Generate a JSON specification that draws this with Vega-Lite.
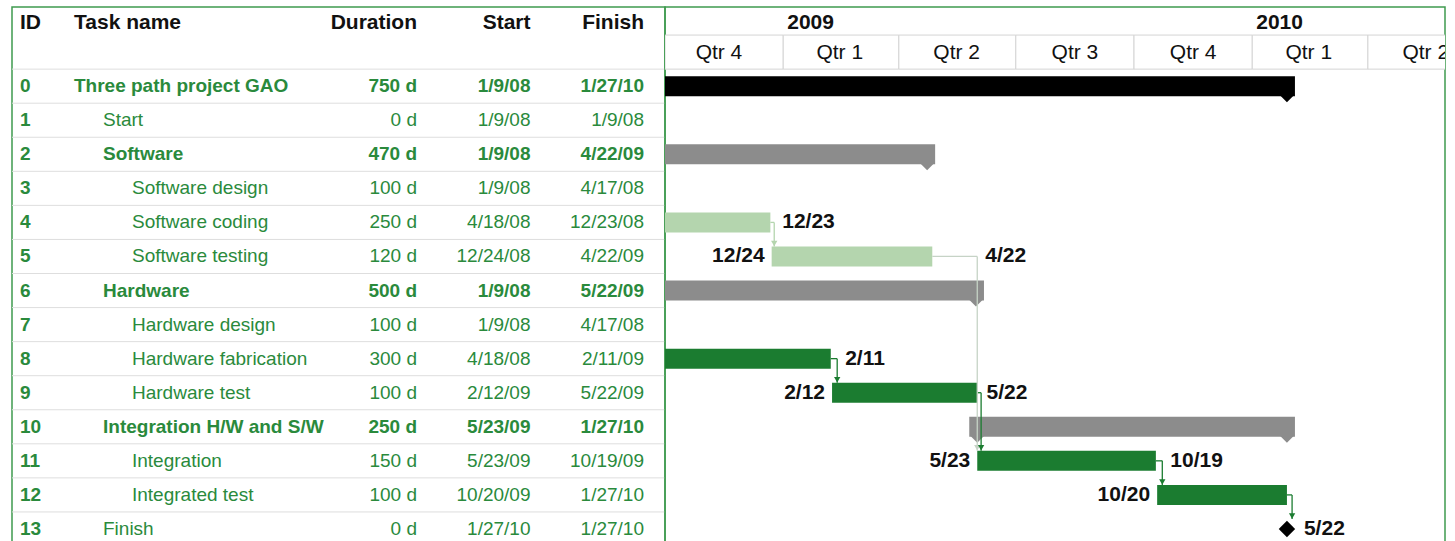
{
  "$schema": "https://vega.github.io/schema/vega-lite/v6.json",
  "background": "white",
  "padding": {"left": 10, "top": 6, "right": 0, "bottom": 0},
  "spacing": 0,
  "bounds": "flush",
  "config": {
    "view": {"stroke": "#3f9b4f", "strokeWidth": 1.5},
    "text": {"font": "Liberation Sans", "fontSize": 19},
    "concat": {"spacing": 0}
  },
  "datasets": {
    "tasks": [
      {"id": 0, "name": "Three path project GAO", "level": 0, "dur": "750 d", "start": "1/9/08", "finish": "1/27/10", "sum": true},
      {"id": 1, "name": "Start", "level": 1, "dur": "0 d", "start": "1/9/08", "finish": "1/9/08", "sum": false},
      {"id": 2, "name": "Software", "level": 1, "dur": "470 d", "start": "1/9/08", "finish": "4/22/09", "sum": true},
      {"id": 3, "name": "Software design", "level": 2, "dur": "100 d", "start": "1/9/08", "finish": "4/17/08", "sum": false},
      {"id": 4, "name": "Software coding", "level": 2, "dur": "250 d", "start": "4/18/08", "finish": "12/23/08", "sum": false},
      {"id": 5, "name": "Software testing", "level": 2, "dur": "120 d", "start": "12/24/08", "finish": "4/22/09", "sum": false},
      {"id": 6, "name": "Hardware", "level": 1, "dur": "500 d", "start": "1/9/08", "finish": "5/22/09", "sum": true},
      {"id": 7, "name": "Hardware design", "level": 2, "dur": "100 d", "start": "1/9/08", "finish": "4/17/08", "sum": false},
      {"id": 8, "name": "Hardware fabrication", "level": 2, "dur": "300 d", "start": "4/18/08", "finish": "2/11/09", "sum": false},
      {"id": 9, "name": "Hardware test", "level": 2, "dur": "100 d", "start": "2/12/09", "finish": "5/22/09", "sum": false},
      {"id": 10, "name": "Integration H/W and S/W", "level": 1, "dur": "250 d", "start": "5/23/09", "finish": "1/27/10", "sum": true},
      {"id": 11, "name": "Integration", "level": 2, "dur": "150 d", "start": "5/23/09", "finish": "10/19/09", "sum": false},
      {"id": 12, "name": "Integrated test", "level": 2, "dur": "100 d", "start": "10/20/09", "finish": "1/27/10", "sum": false},
      {"id": 13, "name": "Finish", "level": 1, "dur": "0 d", "start": "1/27/10", "finish": "1/27/10", "sum": false}
    ],
    "headers": [
      {"h": "ID", "side": "l"},
      {"h": "Task name", "side": "l"},
      {"h": "Duration", "side": "r"},
      {"h": "Start", "side": "r"},
      {"h": "Finish", "side": "r"}
    ],
    "quarters": [
      {"q": "Qtr 4", "s": "2008-10-01", "e": "2009-01-01", "m": "2008-11-12"},
      {"q": "Qtr 1", "s": "2009-01-01", "e": "2009-04-01", "m": "2009-02-14"},
      {"q": "Qtr 2", "s": "2009-04-01", "e": "2009-07-01", "m": "2009-05-16"},
      {"q": "Qtr 3", "s": "2009-07-01", "e": "2009-10-01", "m": "2009-08-16"},
      {"q": "Qtr 4", "s": "2009-10-01", "e": "2010-01-01", "m": "2009-11-16"},
      {"q": "Qtr 1", "s": "2010-01-01", "e": "2010-04-01", "m": "2010-02-14"},
      {"q": "Qtr 2", "s": "2010-04-01", "e": "2010-07-01", "m": "2010-05-16"}
    ],
    "years": [
      {"y": "2009", "d": "2009-01-01"},
      {"y": "2010", "d": "2010-01-01"}
    ],
    "bars": [
      {"id": 0, "kind": "project", "sum": true, "bs": "2008-01-09", "be": "2010-01-28"},
      {"id": 2, "kind": "summary", "sum": true, "bs": "2008-01-09", "be": "2009-04-23"},
      {"id": 3, "kind": "sw", "sum": false, "bs": "2008-01-09", "be": "2008-04-18"},
      {"id": 4, "kind": "sw", "sum": false, "bs": "2008-04-18", "be": "2008-12-22"},
      {"id": 5, "kind": "sw", "sum": false, "bs": "2008-12-23", "be": "2009-04-27"},
      {"id": 6, "kind": "summary", "sum": true, "bs": "2008-01-09", "be": "2009-05-31"},
      {"id": 7, "kind": "hw", "sum": false, "bs": "2008-01-09", "be": "2008-04-18"},
      {"id": 8, "kind": "hw", "sum": false, "bs": "2008-04-18", "be": "2009-02-07"},
      {"id": 9, "kind": "hw", "sum": false, "bs": "2009-02-08", "be": "2009-06-01"},
      {"id": 10, "kind": "summary", "sum": true, "bs": "2009-06-01", "be": "2010-01-28"},
      {"id": 11, "kind": "hw", "sum": false, "bs": "2009-06-01", "be": "2009-10-18"},
      {"id": 12, "kind": "hw", "sum": false, "bs": "2009-10-19", "be": "2010-01-28"}
    ],
    "milestones": [
      {"id": 1, "d": "2008-01-09"},
      {"id": 13, "d": "2010-01-28"}
    ],
    "links": [
      {"from": 4, "to": 5, "a": "2008-12-22", "via": "2008-12-25", "tone": "sw"},
      {"from": 5, "to": 11, "a": "2009-04-27", "via": "2009-06-01", "tone": "grey"},
      {"from": 8, "to": 9, "a": "2009-02-07", "via": "2009-02-12", "tone": "hw"},
      {"from": 9, "to": 11, "a": "2009-06-01", "via": "2009-06-04", "tone": "hw"},
      {"from": 11, "to": 12, "a": "2009-10-18", "via": "2009-10-23", "tone": "hw"},
      {"from": 12, "to": 13, "a": "2010-01-28", "via": "2010-02-01", "tone": "hw"}
    ],
    "labels": [
      {"id": 4, "t": "12/23", "at": "2008-12-25", "side": "r"},
      {"id": 5, "t": "4/22", "at": "2009-06-01", "side": "r"},
      {"id": 8, "t": "2/11", "at": "2009-02-12", "side": "r"},
      {"id": 9, "t": "5/22", "at": "2009-06-02", "side": "r"},
      {"id": 11, "t": "10/19", "at": "2009-10-23", "side": "r"},
      {"id": 13, "t": "5/22", "at": "2010-02-04", "side": "r"},
      {"id": 5, "t": "12/24", "at": "2008-12-23", "side": "l"},
      {"id": 9, "t": "2/12", "at": "2009-02-08", "side": "l"},
      {"id": 11, "t": "5/23", "at": "2009-06-01", "side": "l"},
      {"id": 12, "t": "10/20", "at": "2009-10-19", "side": "l"}
    ]
  },
  "hconcat": [
    {
      "width": 653,
      "height": 541,
      "layer": [
        {
          "data": {"name": "tasks"},
          "mark": {"type": "rule", "color": "#dedede", "strokeWidth": 1},
          "encoding": {
            "y": {"field": "id", "type": "ordinal", "bandPosition": 0, "axis": null,
              "scale": {"type": "band", "domain": ["yr", "qtr", 0, 1, 2, 3, 4, 5, 6, 7, 8, 9, 10, 11, 12, 13], "range": [-6, 539], "paddingInner": 0, "paddingOuter": 0}}
          }
        },
        {
          "data": {"name": "headers"},
          "transform": [{"filter": "datum.side == 'l'"}],
          "mark": {"type": "text", "align": "left", "baseline": "middle", "fontWeight": "bold", "fontSize": 21, "color": "#111111", "dy": 5},
          "encoding": {
            "x": {"field": "h", "type": "nominal", "axis": null, "scale": {"type": "point", "domain": ["ID", "Task name"], "range": [8, 62], "padding": 0}},
            "y": {"datum": "yr", "type": "ordinal", "axis": null},
            "text": {"field": "h"}
          }
        },
        {
          "data": {"name": "headers"},
          "transform": [{"filter": "datum.side == 'r'"}],
          "mark": {"type": "text", "align": "right", "baseline": "middle", "fontWeight": "bold", "fontSize": 21, "color": "#111111", "dy": 5},
          "encoding": {
            "x": {"field": "h", "type": "nominal", "axis": null, "scale": {"type": "point", "domain": ["Duration", "Start", "Finish"], "range": [405, 632], "padding": 0}},
            "y": {"datum": "yr", "type": "ordinal", "axis": null},
            "text": {"field": "h"}
          }
        },
        {
          "data": {"name": "tasks"},
          "transform": [{"fold": ["id"], "as": ["col", "val"]}],
          "mark": {"type": "text", "align": "left", "baseline": "middle", "fontWeight": "bold", "color": "#2a8a3c"},
          "encoding": {
            "x": {"field": "col", "type": "nominal", "axis": null, "scale": {"type": "point", "domain": ["id"], "range": [8, 8], "padding": 0}},
            "y": {"field": "id", "type": "ordinal", "axis": null},
            "text": {"field": "val"}
          }
        },
        {
          "data": {"name": "tasks"},
          "transform": [{"filter": "datum.sum"}],
          "mark": {"type": "text", "align": "left", "baseline": "middle", "fontWeight": "bold", "color": "#2a8a3c"},
          "encoding": {
            "x": {"field": "level", "type": "quantitative", "axis": null, "scale": {"domain": [0, 2], "range": [62, 120]}},
            "y": {"field": "id", "type": "ordinal", "axis": null},
            "text": {"field": "name"}
          }
        },
        {
          "data": {"name": "tasks"},
          "transform": [{"filter": "!datum.sum"}],
          "mark": {"type": "text", "align": "left", "baseline": "middle", "color": "#2a8a3c"},
          "encoding": {
            "x": {"field": "level", "type": "quantitative", "axis": null, "scale": {"domain": [0, 2], "range": [62, 120]}},
            "y": {"field": "id", "type": "ordinal", "axis": null},
            "text": {"field": "name"}
          }
        },
        {
          "data": {"name": "tasks"},
          "transform": [{"filter": "datum.sum"}, {"fold": ["dur", "start", "finish"], "as": ["col", "val"]}],
          "mark": {"type": "text", "align": "right", "baseline": "middle", "fontWeight": "bold", "color": "#2a8a3c"},
          "encoding": {
            "x": {"field": "col", "type": "nominal", "axis": null, "scale": {"type": "point", "domain": ["dur", "start", "finish"], "range": [405, 632], "padding": 0}},
            "y": {"field": "id", "type": "ordinal", "axis": null},
            "text": {"field": "val"}
          }
        },
        {
          "data": {"name": "tasks"},
          "transform": [{"filter": "!datum.sum"}, {"fold": ["dur", "start", "finish"], "as": ["col", "val"]}],
          "mark": {"type": "text", "align": "right", "baseline": "middle", "color": "#2a8a3c"},
          "encoding": {
            "x": {"field": "col", "type": "nominal", "axis": null, "scale": {"type": "point", "domain": ["dur", "start", "finish"], "range": [405, 632], "padding": 0}},
            "y": {"field": "id", "type": "ordinal", "axis": null},
            "text": {"field": "val"}
          }
        }
      ],
      "resolve": {"scale": {"x": "independent"}}
    },
    {
      "width": 780,
      "height": 541,
      "layer": [
        {
          "data": {"name": "quarters"},
          "mark": {"type": "rect", "fill": "white", "stroke": "#d4d4d4", "strokeWidth": 1, "clip": true},
          "encoding": {
            "x": {"field": "s", "type": "temporal", "axis": null,
              "scale": {"type": "utc", "domain": [{"year": 2008, "month": 10, "date": 1, "utc": true}, {"year": 2010, "month": 5, "date": 31, "utc": true}]}},
            "x2": {"field": "e"},
            "y": {"datum": "qtr", "type": "ordinal", "axis": null,
              "scale": {"type": "band", "domain": ["yr", "qtr", 0, 1, 2, 3, 4, 5, 6, 7, 8, 9, 10, 11, 12, 13], "range": [-6, 539], "paddingInner": 0, "paddingOuter": 0}}
          }
        },
        {
          "data": {"name": "years"},
          "mark": {"type": "text", "align": "left", "baseline": "middle", "fontWeight": "bold", "fontSize": 21, "color": "#111111", "dx": 4, "dy": 5},
          "encoding": {
            "x": {"field": "d", "type": "temporal", "axis": null},
            "y": {"datum": "yr", "type": "ordinal", "axis": null},
            "text": {"field": "y"}
          }
        },
        {
          "data": {"name": "quarters"},
          "mark": {"type": "text", "align": "center", "baseline": "middle", "fontSize": 21, "color": "#111111", "dy": 1, "clip": true},
          "encoding": {
            "x": {"field": "m", "type": "temporal", "axis": null},
            "y": {"datum": "qtr", "type": "ordinal", "axis": null},
            "text": {"field": "q"}
          }
        },
        {
          "data": {"name": "bars"},
          "transform": [{"filter": "datum.sum"}],
          "mark": {"type": "bar", "height": 20, "xOffset": -8, "x2Offset": 8, "clip": true, "cornerRadius": 0},
          "encoding": {
            "x": {"field": "bs", "type": "temporal", "axis": null},
            "x2": {"field": "be"},
            "y": {"field": "id", "type": "ordinal", "axis": null},
            "color": {"field": "kind", "type": "nominal", "legend": null,
              "scale": {"domain": ["project", "summary", "sw", "hw", "grey"], "range": ["#000000", "#8c8c8c", "#b4d5ae", "#1b7c30", "#c6d3c6"]}}
          }
        },
        {
          "data": {"name": "bars"},
          "transform": [{"filter": "datum.sum"}],
          "mark": {"type": "point", "shape": "M-1,0L1,0L0,1Z", "size": 196, "filled": true, "opacity": 1, "yOffset": 9, "clip": true},
          "encoding": {
            "x": {"field": "be", "type": "temporal", "axis": null},
            "y": {"field": "id", "type": "ordinal", "axis": null},
            "color": {"field": "kind", "type": "nominal", "legend": null}
          }
        },
        {
          "data": {"name": "bars"},
          "transform": [{"filter": "datum.sum"}],
          "mark": {"type": "point", "shape": "M-1,0L1,0L0,1Z", "size": 196, "filled": true, "opacity": 1, "yOffset": 9, "clip": true},
          "encoding": {
            "x": {"field": "bs", "type": "temporal", "axis": null},
            "y": {"field": "id", "type": "ordinal", "axis": null},
            "color": {"field": "kind", "type": "nominal", "legend": null}
          }
        },
        {
          "data": {"name": "bars"},
          "transform": [{"filter": "!datum.sum"}],
          "mark": {"type": "bar", "height": 20, "clip": true},
          "encoding": {
            "x": {"field": "bs", "type": "temporal", "axis": null},
            "x2": {"field": "be"},
            "y": {"field": "id", "type": "ordinal", "axis": null},
            "color": {"field": "kind", "type": "nominal", "legend": null}
          }
        },
        {
          "data": {"name": "milestones"},
          "mark": {"type": "point", "shape": "diamond", "size": 270, "filled": true, "opacity": 1, "color": "#000000", "clip": true},
          "encoding": {
            "x": {"field": "d", "type": "temporal", "axis": null},
            "y": {"field": "id", "type": "ordinal", "axis": null}
          }
        },
        {
          "data": {"name": "links"},
          "mark": {"type": "rule", "strokeWidth": 1.3, "clip": true},
          "encoding": {
            "x": {"field": "a", "type": "temporal", "axis": null},
            "x2": {"field": "via"},
            "y": {"field": "from", "type": "ordinal", "axis": null},
            "color": {"field": "tone", "type": "nominal", "legend": null}
          }
        },
        {
          "data": {"name": "links"},
          "mark": {"type": "rule", "strokeWidth": 1.3, "y2Offset": -10, "clip": true},
          "encoding": {
            "x": {"field": "via", "type": "temporal", "axis": null},
            "y": {"field": "from", "type": "ordinal", "axis": null},
            "y2": {"field": "to"},
            "color": {"field": "tone", "type": "nominal", "legend": null}
          }
        },
        {
          "data": {"name": "links"},
          "mark": {"type": "point", "shape": "triangle-down", "size": 40, "filled": true, "opacity": 1, "yOffset": -13, "clip": true},
          "encoding": {
            "x": {"field": "via", "type": "temporal", "axis": null},
            "y": {"field": "to", "type": "ordinal", "axis": null},
            "color": {"field": "tone", "type": "nominal", "legend": null}
          }
        },
        {
          "data": {"name": "labels"},
          "transform": [{"filter": "datum.side == 'r'"}],
          "mark": {"type": "text", "align": "left", "baseline": "middle", "fontWeight": "bold", "fontSize": 21, "color": "#111111", "dx": 8},
          "encoding": {
            "x": {"field": "at", "type": "temporal", "axis": null},
            "y": {"field": "id", "type": "ordinal", "axis": null},
            "text": {"field": "t"}
          }
        },
        {
          "data": {"name": "labels"},
          "transform": [{"filter": "datum.side == 'l'"}],
          "mark": {"type": "text", "align": "right", "baseline": "middle", "fontWeight": "bold", "fontSize": 21, "color": "#111111", "dx": -7},
          "encoding": {
            "x": {"field": "at", "type": "temporal", "axis": null},
            "y": {"field": "id", "type": "ordinal", "axis": null},
            "text": {"field": "t"}
          }
        }
      ]
    }
  ]
}
